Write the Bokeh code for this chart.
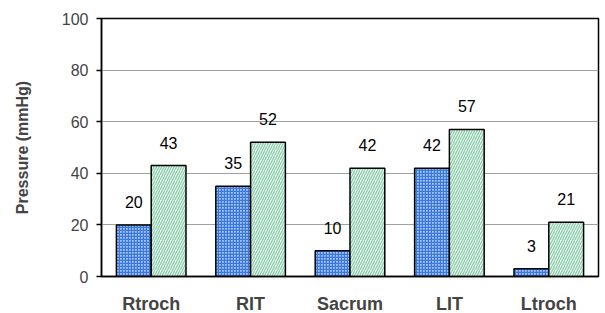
from bokeh.plotting import figure
from bokeh.models import ColumnDataSource, Range1d, FactorRange, LabelSet
from bokeh.transform import dodge
from bokeh.core.properties import value
from bokeh.embed import file_html
from bokeh.resources import INLINE

categories = ["Rtroch", "RIT", "Sacrum", "LIT", "Ltroch"]
series_a = [20, 35, 10, 42, 3]
series_b = [43, 52, 42, 57, 21]
y_ticks = [0, 20, 40, 60, 80, 100]

src = ColumnDataSource(dict(cat=categories, a=series_a, b=series_b,
                            la=[str(v) for v in series_a], lb=[str(v) for v in series_b]))

p = figure(x_range=FactorRange(*categories, range_padding=0), y_range=Range1d(0, 100),
           frame_width=497, frame_height=258, width=605, height=313,
           min_border_left=101, min_border_right=7, min_border_top=18, min_border_bottom=37,
           output_backend="svg", toolbar_location=None)

p.vbar(x=dodge("cat", -0.175, range=p.x_range), top="a", width=0.35, source=src,
       fill_color="#a6c6f6", line_color="black", line_width=1.5,
       hatch_pattern="+", hatch_color="#3a78dc", hatch_scale=3, hatch_weight=1.5)
p.vbar(x=dodge("cat", 0.175, range=p.x_range), top="b", width=0.35, source=src,
       fill_color="white", line_color="black", line_width=1.5,
       hatch_pattern="/", hatch_color="#8fd0ad", hatch_scale=5, hatch_weight=1.5)

for xoff, col, lab in [(-0.175, "a", "la"), (0.175, "b", "lb")]:
    p.add_layout(LabelSet(x=dodge("cat", xoff, range=p.x_range), y=col, text=lab, source=src,
                          y_offset=17, text_align="center", text_baseline="alphabetic",
                          text_font=value("Liberation Sans"), text_font_size="16px",
                          text_color="black"))

p.outline_line_color = "black"
p.outline_line_width = 1.5
p.xgrid.grid_line_color = None
p.ygrid.grid_line_color = "#a0a0a0"
p.ygrid.grid_line_width = 1

p.yaxis.ticker = y_ticks
p.yaxis.axis_label = "Pressure (mmHg)"
p.yaxis.axis_label_text_font = "Liberation Sans"
p.yaxis.axis_label_text_font_style = "bold"
p.yaxis.axis_label_text_font_size = "16px"
p.yaxis.axis_label_standoff = 28
p.yaxis.major_label_text_font = "Liberation Sans"
p.yaxis.major_label_text_font_size = "16px"
p.yaxis.major_label_standoff = 8
p.yaxis.major_tick_out = 5
p.yaxis.major_tick_in = 0
p.yaxis.minor_tick_line_color = None
p.yaxis.axis_line_color = "black"
p.yaxis.axis_line_width = 1.5
p.yaxis.major_tick_line_width = 1.5

p.xaxis.major_label_text_font = "Liberation Sans"
p.xaxis.major_label_text_font_style = "bold"
p.xaxis.major_label_text_font_size = "18px"
p.xaxis.major_label_standoff = 11
p.xaxis.major_tick_line_color = None
p.xaxis.axis_line_color = "black"
p.xaxis.axis_line_width = 1.5

open("out.html", "w").write(file_html(p, INLINE))
